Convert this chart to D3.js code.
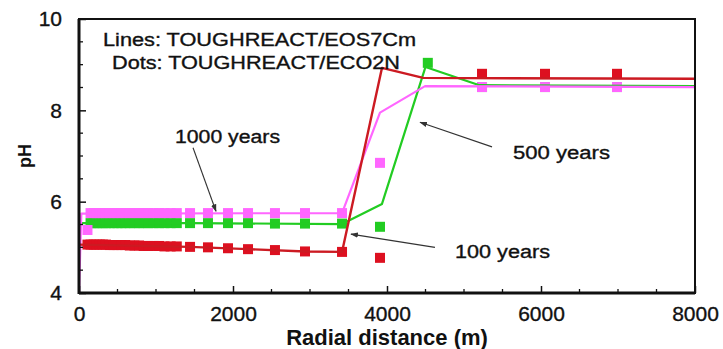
<!DOCTYPE html>
<html>
<head>
<meta charset="utf-8">
<script src="https://cdn.jsdelivr.net/npm/d3@7"></script>
<style>
  html, body { margin: 0; padding: 0; background: #fff; }
  svg { display: block; }
  text { font-family: "Liberation Sans", Arial, Helvetica, sans-serif; fill: #111; }
  .heavy { stroke: #111; stroke-width: 0.35px; }
</style>
</head>
<body>
<svg id="chart" width="723" height="349"></svg>
<script>
// Radial distance (m) of the ECO2N grid nodes shown as square dots
const dotX = [110, 150, 190, 230, 270, 310, 350, 400, 450, 500, 550, 600, 660, 720, 780, 840, 900, 970, 1040, 1110, 1190, 1270, 1442, 1675, 1935, 2195, 2545, 2935, 3416, 3909, 4530, 5234, 6052, 6987];

// pH from TOUGHREACT/ECO2N (dots); null where no dot is drawn
const dots100  = [5.06, 5.06, 5.06, 5.06, 5.06, 5.06, 5.06, 5.05, 5.05, 5.05, 5.05, 5.05, 5.04, 5.04, 5.04, 5.03, 5.03, 5.03, 5.03, 5.02, 5.02, 5.02, 5.01, 5.00, 4.98, 4.96, 4.94, 4.91, 4.90, 4.77, null, 8.80, 8.80, 8.80];
const dots500  = [null, 5.53, 5.53, 5.53, 5.53, 5.53, 5.53, 5.53, 5.53, 5.53, 5.53, 5.53, 5.53, 5.53, 5.53, 5.53, 5.53, 5.53, 5.53, 5.53, 5.53, 5.53, 5.53, 5.53, 5.53, 5.53, 5.52, 5.52, 5.52, 5.45, 9.04, 8.51, 8.51, 8.51];
const dots1000 = [5.38, 5.75, 5.75, 5.75, 5.75, 5.75, 5.75, 5.75, 5.75, 5.75, 5.75, 5.75, 5.75, 5.75, 5.75, 5.75, 5.75, 5.75, 5.75, 5.75, 5.75, 5.75, 5.75, 5.75, 5.75, 5.75, 5.75, 5.75, 5.75, 6.85, null, 8.51, 8.51, 8.51];

// pH from TOUGHREACT/EOS7Cm (lines)
const line100X  = [0, 1442, 2195, 2935, 3416, 3935, 4470, 8000];
const line100Y  = [5.06, 5.01, 4.96, 4.91, 4.90, 8.93, 8.71, 8.69];
const line500X  = [0, 1442, 3416, 3935, 4500, 5200, 8000];
const line500Y  = [5.53, 5.53, 5.51, 5.95, 8.95, 8.55, 8.53];
const line1000X = [0, 30, 3416, 3909, 4494, 8000];
const line1000Y = [4.0, 5.74, 5.75, 7.95, 8.53, 8.51];

const xTicks = [0, 2000, 4000, 6000, 8000];
const yTicks = [4, 6, 8, 10];

const colors = { red: "#dd1020", redLine: "#cc1a22", green: "#22cc22", magenta: "#ff66ff" };

const svg = d3.select("#chart");
const plot = { left: 79, right: 695, top: 19, bottom: 293 };

const x = d3.scaleLinear().domain([0, 8000]).range([plot.left, plot.right]);
const y = d3.scaleLinear().domain([4, 10]).range([plot.bottom, plot.top]);

const defs = svg.append("defs");
defs.append("clipPath").attr("id", "clip")
  .append("rect")
  .attr("x", plot.left).attr("y", plot.top)
  .attr("width", plot.right - plot.left).attr("height", plot.bottom - plot.top);

const marks = svg.append("g").attr("clip-path", "url(#clip)");

// ECO2N dots
function drawDots(values, color) {
  const pts = dotX.map((d, i) => ({ x: d, y: values[i] })).filter(d => d.y != null);
  const s = 10;
  marks.append("g").selectAll("rect").data(pts).join("rect")
    .attr("x", d => x(d.x) - s / 2)
    .attr("y", d => y(d.y) - s / 2)
    .attr("width", s).attr("height", s)
    .attr("fill", color);
}
drawDots(dots500, colors.green);
drawDots(dots100, colors.red);
drawDots(dots1000, colors.magenta);

// EOS7Cm lines
const lineGen = d3.line().x(d => x(d[0])).y(d => y(d[1]));
function drawLine(xs, ys, color, w) {
  marks.append("path")
    .datum(xs.map((d, i) => [d, ys[i]]))
    .attr("d", lineGen)
    .attr("fill", "none")
    .attr("stroke", color)
    .attr("stroke-width", w)
    .attr("stroke-linejoin", "round");
}
drawLine(line500X, line500Y, colors.green, 2.2);
drawLine(line1000X, line1000Y, colors.magenta, 2.2);
drawLine(line100X, line100Y, colors.redLine, 2.4);

// Axes: ticks point inward, frame on all four sides
const xAxis = d3.axisBottom(x).tickValues(xTicks).tickSize(-7).tickPadding(10).tickFormat(d3.format("d"));
const yAxis = d3.axisLeft(y).tickValues(yTicks).tickSize(-7).tickPadding(10).tickFormat(d3.format("d"));

const gx = svg.append("g").attr("transform", `translate(0,${plot.bottom})`).call(xAxis);
const gy = svg.append("g").attr("transform", `translate(${plot.left},0)`).call(yAxis);
[gx, gy].forEach(g => {
  g.select(".domain").remove();
  g.selectAll(".tick line").attr("stroke", "#111").attr("stroke-width", 1.5);
  g.selectAll(".tick text").attr("font-size", 21).attr("fill", "#111").classed("heavy", true);
});
gx.selectAll(".tick text").attr("dy", "0.71em").attr("y", 13);
gy.selectAll(".tick text").attr("x", -17);

// minor ticks
const xMinor = d3.range(0, 8001, 500).filter(v => !xTicks.includes(v));
const yMinor = d3.range(4, 10.01, 0.5).filter(v => !yTicks.includes(v));
svg.append("g").selectAll("line").data(xMinor).join("line")
  .attr("x1", d => x(d)).attr("x2", d => x(d))
  .attr("y1", plot.bottom).attr("y2", plot.bottom - 4)
  .attr("stroke", "#111").attr("stroke-width", 1.3);
svg.append("g").selectAll("line").data(yMinor).join("line")
  .attr("x1", plot.left).attr("x2", plot.left + 4)
  .attr("y1", d => y(d)).attr("y2", d => y(d))
  .attr("stroke", "#111").attr("stroke-width", 1.3);

svg.append("rect")
  .attr("x", plot.left).attr("y", plot.top)
  .attr("width", plot.right - plot.left).attr("height", plot.bottom - plot.top)
  .attr("fill", "none").attr("stroke", "#111").attr("stroke-width", 2);
svg.append("line").attr("x1", plot.left).attr("x2", plot.left)
  .attr("y1", plot.top).attr("y2", plot.bottom + 1)
  .attr("stroke", "#111").attr("stroke-width", 3);
svg.append("line").attr("x1", plot.left).attr("x2", plot.right)
  .attr("y1", plot.bottom).attr("y2", plot.bottom)
  .attr("stroke", "#111").attr("stroke-width", 3);

// axis titles
svg.append("text")
  .attr("x", (plot.left + plot.right) / 2).attr("y", 345)
  .attr("text-anchor", "middle")
  .attr("font-size", 22).attr("font-weight", "bold")
  .text("Radial distance (m)");
svg.append("text")
  .attr("transform", `translate(31,${(plot.top + plot.bottom) / 2}) rotate(-90)`)
  .attr("text-anchor", "middle")
  .attr("font-size", 18).attr("font-weight", "bold")
  .text("pH");

// legend notes (glyphs set wide)
function wideText(tx, ty, str, len) {
  return svg.append("text").attr("x", tx).attr("y", ty)
    .attr("font-size", 18).attr("class", "heavy")
    .attr("textLength", len).attr("lengthAdjust", "spacingAndGlyphs")
    .text(str);
}
wideText(103, 46, "Lines: TOUGHREACT/EOS7Cm", 313);
wideText(112, 69, "Dots: TOUGHREACT/ECO2N", 288);

// time labels with arrows (positions in data units)
defs.append("marker").attr("id", "arrow")
  .attr("viewBox", "0 0 10 10").attr("refX", 9).attr("refY", 5)
  .attr("markerWidth", 7).attr("markerHeight", 7).attr("orient", "auto")
  .append("path").attr("d", "M0,1.5 L10,5 L0,8.5 Z").attr("fill", "#333");

const notes = [
  { text: "1000 years", tx: 1247, ty: 7.42, len: 105, from: [1481, 7.18], to: [1779, 5.79] },
  { text: "500 years",  tx: 5636, ty: 7.07, len: 97,  from: [5364, 7.20], to: [4429, 7.74] },
  { text: "100 years",  tx: 4883, ty: 4.90, len: 95,  from: [4623, 5.00], to: [3532, 5.29] }
];
notes.forEach(n => {
  svg.append("line")
    .attr("x1", x(n.from[0])).attr("y1", y(n.from[1]))
    .attr("x2", x(n.to[0])).attr("y2", y(n.to[1]))
    .attr("stroke", "#333").attr("stroke-width", 1.1)
    .attr("marker-end", "url(#arrow)");
  wideText(x(n.tx), y(n.ty) + 6.5, n.text, n.len);
});
</script>
</body>
</html>
